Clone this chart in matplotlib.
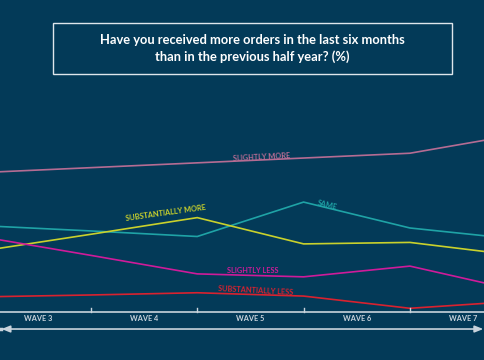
import matplotlib
matplotlib.use("Agg")
import matplotlib.pyplot as plt
from matplotlib.patches import Rectangle

# Datos (% de respuestas)
x_puntos = [2.5, 3.5, 4.5, 5.5, 6.5, 7.5]
slightly_more = [37.7, 39.0, 40.3, 41.6, 42.9, 47.9]
same = [23.3, 21.9, 20.4, 29.7, 22.7, 19.7]
substantially_more = [16.6, 21.0, 25.5, 18.4, 18.8, 15.3]
slightly_less = [20.2, 15.3, 10.3, 9.5, 12.4, 5.9]
substantially_less = [4.1, 4.6, 5.2, 4.3, 1.0, 2.9]

olas = [3, 4, 5, 6, 7]
etiquetas_olas = ["WAVE 3", "WAVE 4", "WAVE 5", "WAVE 6", "WAVE 7"]
ticks_olas = [3.5, 4.5, 5.5, 6.5]

fondo = "#033a58"
gris = "#c9d3dc"
fuente = "Lato"

fig = plt.figure(figsize=(4.85, 3.6), dpi=100, facecolor=fondo)
ax = fig.add_axes([0, 0, 1, 1])
ax.set_facecolor(fondo)
ax.set_xlim(2.6455, 7.206)
ax.set_ylim(-12.97, 84.3)
ax.axis("off")

series = [
    (slightly_more, "#b56c93"),
    (same, "#1fa3a6"),
    (substantially_more, "#c9d12c"),
    (slightly_less, "#cf1b9a"),
    (substantially_less, "#d9222f"),
]
for valores, color in series:
    ax.plot(x_puntos, valores, color=color, lw=1.2, solid_joinstyle="miter")

# Etiquetas de las series
estilo = dict(fontsize=5.3, fontweight="bold", family=fuente, ha="center", va="center")
ax.text(5.1, 42.0, "SLIGHTLY MORE", color="#b56c93", rotation=3, **estilo)
ax.text(5.72, 28.9, "SAME", color="#1fa3a6", rotation=-14, **estilo)
ax.text(4.2, 26.9, "SUBSTANTIALLY MORE", color="#c9d12c", rotation=8, **estilo)
ax.text(5.02, 11.3, "SLIGHTLY LESS", color="#cf1b9a", **estilo)
ax.text(5.05, 5.8, "SUBSTANTIALLY LESS", color="#d9222f", rotation=-3, **estilo)

# Eje de olas
ax.axhline(0, color=gris, lw=1.2)
for t in ticks_olas:
    ax.plot([t, t], [0, 1.1], color=gris, lw=1.0)
for o, etiqueta in zip(olas, etiquetas_olas):
    ax.text(o, -1.8, etiqueta, color=gris, fontsize=5.3, fontweight="bold", family=fuente,
            ha="center", va="center")

ax.annotate("", xy=(2.66, -4.6), xytext=(7.19, -4.6),
            arrowprops=dict(arrowstyle="<|-|>,head_length=0.5,head_width=0.2",
                            color=gris, lw=1.2, shrinkA=0, shrinkB=0))
ax.plot([2.6455, 2.657], [-4.6, -4.6], color=gris, lw=2.5)

# Título en recuadro
fig.patches.append(Rectangle((0.109, 0.794), 0.823, 0.142, transform=fig.transFigure,
                             fill=False, edgecolor="#dfe6ec", lw=1.0))
fig.text(0.52, 0.865, "Have you received more orders in the last six months\nthan in the previous half year? (%)",
         color="white", fontsize=9.3, fontweight="bold", family=fuente,
         ha="center", va="center", linespacing=1.35)

fig.savefig("out.png", dpi=100, facecolor=fondo)
